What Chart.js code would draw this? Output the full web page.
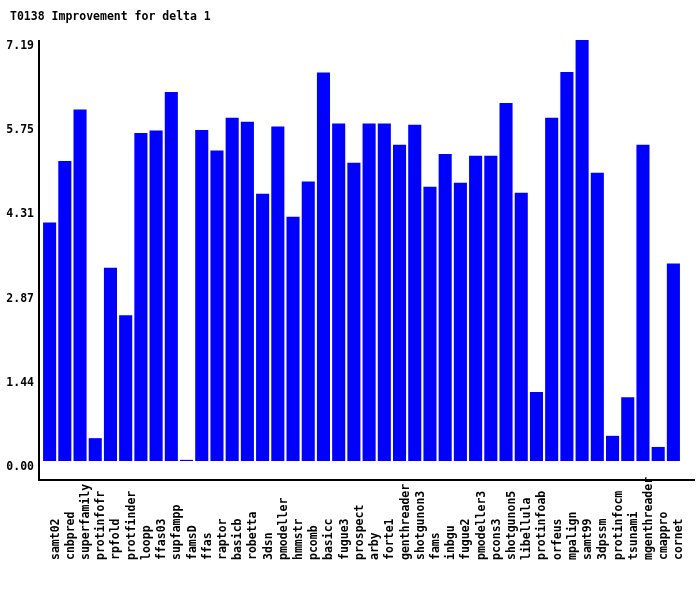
<!DOCTYPE html>
<html>
<head>
<meta charset="utf-8">
<title>T0138 Improvement for delta 1</title>
<script src="https://cdn.jsdelivr.net/npm/chart.js@4.4.1/dist/chart.umd.min.js"></script>
<style>
    html, body { margin: 0; padding: 0; background: #fff; }
    canvas { display: block; }
</style>
</head>
<body>
<canvas id="improvementChart" width="700" height="590"></canvas>
<script>
// server names, left to right
const servers = [
    'samt02', 'cnbpred', 'superfamily', 'protinfofr', 'rpfold', 'protfinder',
    'loopp', 'ffas03', 'supfampp', 'famsD', 'ffas', 'raptor', 'basicb',
    'robetta', '3dsn', 'pmodeller', 'hmmstr', 'pcomb', 'basicc', 'fugue3',
    'prospect', 'arby', 'forte1', 'genthreader', 'shotgunon3', 'fams', 'inbgu',
    'fugue2', 'pmodeller3', 'pcons3', 'shotgunon5', 'libellula', 'protinfoab',
    'orfeus', 'mpalign', 'samt99', '3dpssm', 'protinfocm', 'tsunami',
    'mgenthreader', 'cmappro', 'cornet'
];

// improvement values
const improvement = [
    4.07, 5.12, 6.00, 0.39, 3.30, 2.49,
    5.60, 5.64, 6.30, 0.02, 5.65, 5.30, 5.86,
    5.79, 4.56, 5.71, 4.17, 4.77, 6.63, 5.76,
    5.09, 5.76, 5.76, 5.40, 5.74, 4.68, 5.24,
    4.75, 5.21, 5.21, 6.11, 4.58, 1.18,
    5.86, 6.64, 7.186, 4.92, 0.43, 1.09,
    5.40, 0.24, 3.37
];

// y tick values (max / 5 steps), printed with two decimals
const yTicks = [0, 1.437, 2.874, 4.311, 5.748, 7.186];

const chartTitle = 'T0138 Improvement for delta 1';
const monoFont = 'DejaVu Sans Mono';

// draws the title, the two axis lines and the vertical server names
const axesAndLabels = {
    id: 'axesAndLabels',
    afterDraw(chart) {
        const ctx = chart.ctx;
        const area = chart.chartArea;
        const xScale = chart.scales.x;
        ctx.save();
        ctx.fillStyle = '#000';
        ctx.font = 'bold 11.5px "' + monoFont + '"';
        ctx.textAlign = 'left';
        ctx.textBaseline = 'middle';
        ctx.fillText(chartTitle, 10, 17);

        ctx.strokeStyle = '#000';
        ctx.lineWidth = 2;
        ctx.beginPath();
        ctx.moveTo(area.left - 3, area.top);
        ctx.lineTo(area.left - 3, area.bottom);
        ctx.moveTo(area.left - 4, area.bottom);
        ctx.lineTo(area.right + 14, area.bottom);
        ctx.stroke();

        servers.forEach(function(name, i) {
            const x = xScale.getPixelForValue(i) + 6;
            ctx.save();
            ctx.translate(x, area.bottom + 80);
            ctx.rotate(-Math.PI / 2);
            ctx.fillText(name, 0, 0);
            ctx.restore();
        });
        ctx.restore();
    }
};

document.addEventListener('DOMContentLoaded', function() {
    const ctx = document.getElementById('improvementChart');

    new Chart(ctx, {
        type: 'bar',
        data: {
            labels: servers,
            datasets: [{
                label: 'Improvement',
                data: improvement,
                backgroundColor: '#0000ff',
                borderWidth: 0,
                barPercentage: 0.86,
                categoryPercentage: 1.0
            }]
        },
        options: {
            responsive: false,
            animation: false,
            layout: {
                padding: { left: 0, right: 19, top: 40, bottom: 110 }
            },
            scales: {
                x: {
                    display: false
                },
                y: {
                    min: -0.324,
                    max: 7.186,
                    grid: { display: false, drawTicks: false },
                    border: { display: false },
                    afterFit: function(scale) { scale.width = 42; },
                    afterBuildTicks: function(scale) {
                        scale.ticks = yTicks.map(v => ({ value: v }));
                    },
                    ticks: {
                        color: '#000',
                        padding: 8,
                        labelOffset: 6,
                        font: { family: monoFont, size: 11.5, weight: 'bold' },
                        callback: function(value) { return Number(value).toFixed(2); }
                    }
                }
            },
            plugins: {
                legend: { display: false },
                tooltip: { enabled: false },
                title: { display: false }
            }
        },
        plugins: [axesAndLabels]
    });
});
</script>
</body>
</html>
